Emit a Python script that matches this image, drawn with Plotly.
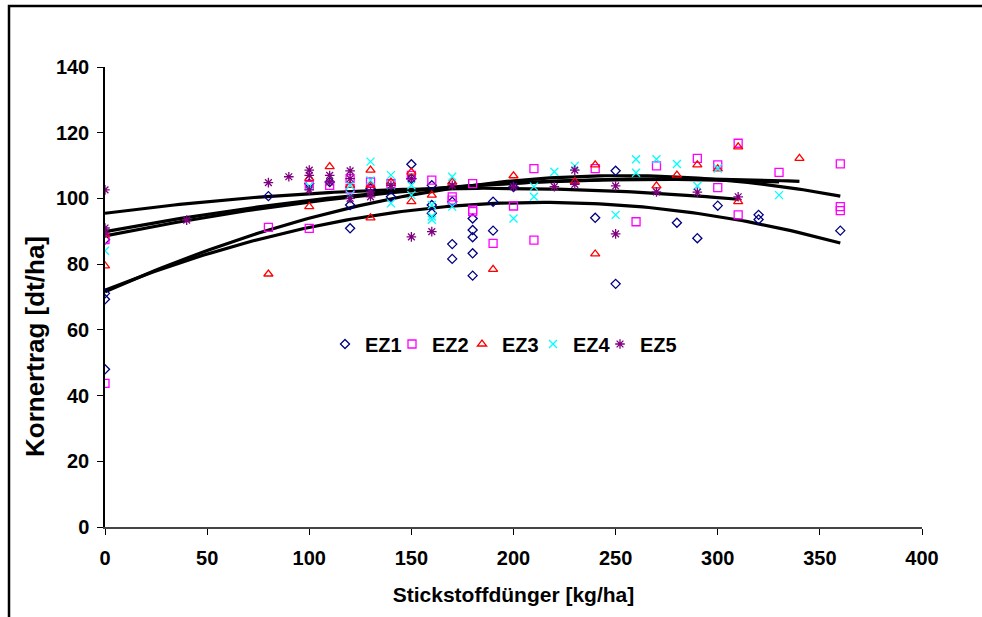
import numpy as np
import plotly.graph_objects as go

# ---- scatter data (N fertiliser kg/ha, grain yield dt/ha) ----
ez1_x = [0, 0, 0, 0, 80, 100, 110, 120, 120, 130, 140, 150, 150, 160, 160, 160, 170, 170, 170,
         180, 180, 180, 180, 180, 190, 190, 200, 240, 250, 250, 280, 290, 300, 320, 320, 360]
ez1_y = [87.5, 71.1, 69.3, 48.0, 100.7, 104.5, 105.0, 90.9, 98.0, 103.0, 100.5, 110.4, 106.0, 98.0, 95.5, 104.0, 86.1, 81.6, 99.0,
         93.9, 90.4, 88.2, 83.3, 76.5, 99.0, 90.2, 103.5, 94.1, 108.4, 74.0, 92.6, 87.9, 97.8, 95.0, 93.6, 90.2]

ez2_x = [0, 0, 80, 100, 100, 110, 120, 120, 130, 140, 150, 160, 170, 170, 180, 180, 180, 190, 200,
         210, 210, 240, 260, 270, 290, 300, 300, 310, 310, 330, 360, 360, 360]
ez2_y = [87.5, 43.7, 91.2, 90.9, 104.0, 104.0, 106.0, 103.0, 105.0, 104.5, 107.0, 105.6, 100.5, 99.5, 104.5, 96.5, 96.0, 86.3, 97.7,
         109.1, 87.3, 109.1, 92.9, 109.9, 112.2, 110.2, 103.3, 116.8, 95.0, 107.9, 110.5, 97.5, 96.3]

ez3_x = [0, 0, 80, 100, 100, 110, 120, 130, 130, 130, 140, 150, 150, 160, 170, 190, 200, 230, 240, 240,
         270, 280, 290, 300, 310, 310, 340]
ez3_y = [79.5, 89.0, 77.0, 106.1, 97.5, 109.7, 104.0, 108.6, 104.0, 94.1, 105.0, 108.0, 99.0, 101.0, 105.0, 78.4, 106.9, 105.1, 110.2, 83.1,
         103.8, 107.1, 110.2, 109.0, 115.7, 99.0, 112.2]

ez4_x = [0, 100, 120, 120, 130, 130, 140, 140, 140, 150, 150, 160, 160, 160, 170, 170, 200, 210, 210,
         220, 230, 250, 260, 260, 270, 280, 290, 300, 330]
ez4_y = [84.1, 103.8, 101.0, 104.0, 111.2, 105.5, 107.1, 104.0, 98.5, 101.0, 104.0, 94.5, 93.5, 98.0, 106.6, 97.5, 93.9, 103.6, 100.5,
         108.1, 109.9, 95.0, 111.9, 107.8, 111.9, 110.5, 103.8, 109.1, 101.0]

ez5_x = [0, 0, 0, 40, 80, 90, 100, 100, 100, 110, 110, 120, 120, 120, 130, 130, 140, 150, 150, 160,
         170, 200, 220, 230, 230, 250, 250, 270, 290, 310]
ez5_y = [102.6, 91.0, 89.5, 93.4, 104.8, 106.6, 108.6, 107.0, 102.6, 107.0, 105.0, 108.4, 106.0, 100.0, 100.5, 102.0, 104.0, 106.0, 88.3, 89.9,
         104.0, 103.6, 103.6, 108.6, 104.3, 103.8, 89.2, 102.0, 101.9, 100.5]

# ---- trendline values (quadratic trendlines) ----
ez1_tx = [0, 105, 200, 300, 360]
ez1_ty = [72.0, 91.9, 98.7, 94.4, 86.5]
ez2_tx = [0, 105, 200, 300, 360]
ez2_ty = [71.5, 95.0, 105.3, 105.6, 100.8]
ez3_tx = [0, 105, 200, 300, 340]
ez3_ty = [89.8, 100.0, 104.6, 105.6, 105.4]
ez4_tx = [0, 105, 200, 300, 330]
ez4_ty = [88.5, 99.5, 104.5, 105.4, 105.2]
ez5_tx = [0, 105, 200, 300, 310]
ez5_ty = [95.5, 101.6, 103.1, 100.2, 99.8]

names = ["EZ1", "EZ2", "EZ3", "EZ4", "EZ5"]
colors = ["#000080", "#FF00FF", "#FF0000", "#00FFFF", "#800080"]
symbols = ["diamond-open", "square-open", "triangle-up-open", "x-thin-open", "asterisk-open"]
sizes = [7, 8, 8, 8, 8]
xs = [ez1_x, ez2_x, ez3_x, ez4_x, ez5_x]
ys = [ez1_y, ez2_y, ez3_y, ez4_y, ez5_y]
txs = [ez1_tx, ez2_tx, ez3_tx, ez4_tx, ez5_tx]
tys = [ez1_ty, ez2_ty, ez3_ty, ez4_ty, ez5_ty]
legend_marker_px = [345, 412, 482, 553, 620]   # legend symbol positions (px)

fig = go.Figure()

# trendlines
for tx, ty in zip(txs, tys):
    c = np.polyfit(tx, ty, 2)
    xx = np.linspace(min(tx), max(tx), 120)
    fig.add_trace(go.Scatter(x=xx, y=np.polyval(c, xx), mode="lines",
                             line=dict(color="black", width=3.2), showlegend=False,
                             hoverinfo="skip"))

legend_ids = ["legend", "legend2", "legend3", "legend4", "legend5"]
for n, col, sym, sz, x, y, lg in zip(names, colors, symbols, sizes, xs, ys, legend_ids):
    fig.add_trace(go.Scatter(x=x, y=y, mode="markers", name=n, legend=lg,
                             marker=dict(symbol=sym, size=sz, color=col,
                                         line=dict(color=col, width=1.3))))

L, R, T, B = 105, 922, 67, 527
W, H = 982, 617
pw, ph = R - L, B - T

def px_x(p):
    return (p - L) / pw

def px_y(p):
    return (B - p) / ph

legend_style = dict(orientation="h", y=px_y(344), xanchor="left", yanchor="middle",
                    bgcolor="rgba(0,0,0,0)", itemwidth=30,
                    font=dict(size=20, family="Liberation Sans, Arial", weight="bold"))
layout_legends = {}
for lg, mpx in zip(legend_ids, legend_marker_px):
    layout_legends[lg] = dict(legend_style, x=px_x(mpx - 20))

fig.update_layout(
    width=W, height=H,
    margin=dict(l=L, r=W - R, t=T, b=H - B),
    paper_bgcolor="white", plot_bgcolor="white",
    font=dict(family="Liberation Sans, Arial, sans-serif", size=20, color="black"),
    showlegend=True,
    **layout_legends,
)

fig.update_xaxes(range=[0, 400], tickvals=list(range(0, 401, 50)),
                 showgrid=False, zeroline=False, showline=True, linecolor="#444", linewidth=1.5,
                 ticks="outside", ticklen=6, tickcolor="black", tickwidth=1,
                 tickfont=dict(size=20, weight="bold"), ticklabelstandoff=6,
                 title=dict(text="<b>Stickstoffdünger [kg/ha]</b>", font=dict(size=21), standoff=20))
fig.update_yaxes(range=[0, 140], tickvals=list(range(0, 141, 20)),
                 showgrid=False, zeroline=False, showline=True, linecolor="black", linewidth=1.5,
                 ticks="outside", ticklen=6, tickcolor="black", tickwidth=1,
                 tickfont=dict(size=20, weight="bold"), ticklabelstandoff=4)

# y-axis title (placed as in the reference, slightly below the axis centre)
fig.add_annotation(text="<b>Kornertrag [dt/ha]</b>", xref="paper", yref="paper",
                   x=px_x(35), y=px_y(347), textangle=-90, showarrow=False,
                   xanchor="center", yanchor="middle", font=dict(size=26))

# outer chart frame
fig.add_shape(type="rect", xref="paper", yref="paper",
              x0=px_x(9), x1=px_x(1020), y0=px_y(660), y1=px_y(6),
              line=dict(color="black", width=2.5), fillcolor="rgba(0,0,0,0)", layer="above")

fig.write_html("out.html")
